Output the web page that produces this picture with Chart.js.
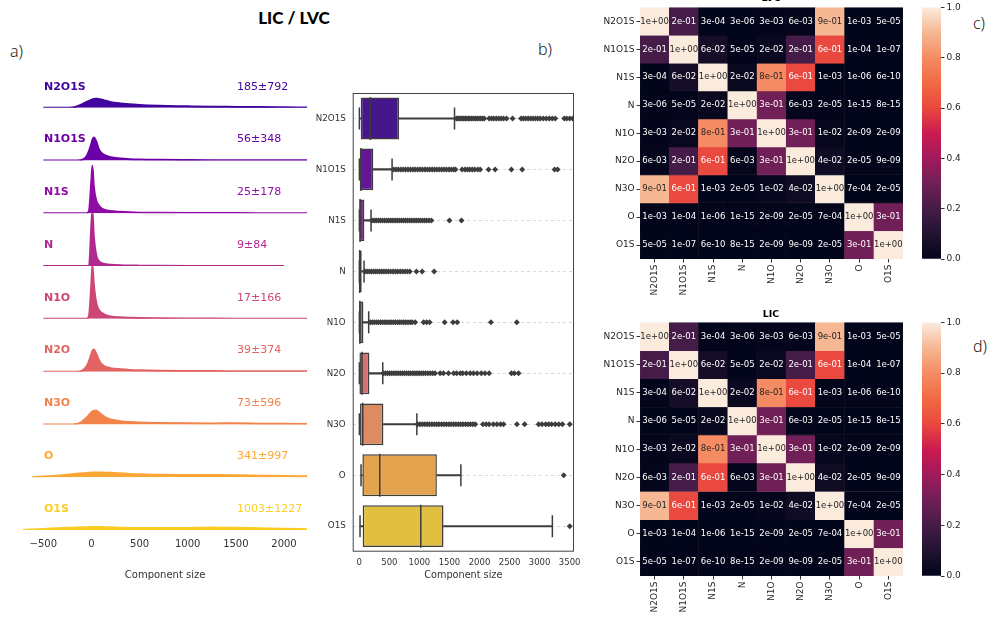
<!DOCTYPE html>
<html>
<head>
<meta charset="utf-8">
<title>LIC / LVC</title>
<script src="https://cdn.jsdelivr.net/npm/chart.js@4.4.1/dist/chart.umd.min.js"></script>
<style>
  body { margin: 0; width: 988px; height: 619px; position: relative; overflow: hidden; background: #fff; font-family: "DejaVu Sans", sans-serif; }
  canvas { position: absolute; }
  .tag { position: absolute; font-family: "Noto Sans", sans-serif; font-size: 16px; line-height: 22px; color: #222; font-weight: 300; }
  .title { position: absolute; text-align: center; font-weight: bold; color: #000; }
</style>
</head>
<body>
<div class="title" style="left:194px;top:8px;width:200px;font-family:Lato,'DejaVu Sans',sans-serif;font-size:17px;line-height:20px;font-weight:900">LIC / LVC</div>
<div class="tag" style="left:10px;top:40px">a)</div>
<div class="tag" style="left:538px;top:38px">b)</div>
<div class="tag" style="left:973px;top:12px">c)</div>
<div class="tag" style="left:973px;top:335px">d)</div>

<canvas id="ridge" width="320" height="560" style="left:0;top:40px"></canvas>
<canvas id="box" width="297" height="520" style="left:300px;top:70px"></canvas>
<canvas id="heatC" width="320" height="300" style="left:590px;top:0"></canvas>
<canvas id="cbarC" width="60" height="300" style="left:915px;top:0"></canvas>
<canvas id="heatD" width="320" height="302" style="left:590px;top:315px"></canvas>
<canvas id="cbarD" width="60" height="302" style="left:915px;top:315px"></canvas>
<div class="title" style="left:671px;top:-8px;width:200px;font-size:9.5px;line-height:12px">LVC</div>
<div class="title" style="left:671px;top:308px;width:200px;font-size:9.5px;line-height:12px">LIC</div>

<script>
// ---- data ----
const ridgeRows = ['N2O1S', 'N1O1S', 'N1S', 'N', 'N1O', 'N2O', 'N3O', 'O', 'O1S'];
const ridgeColors = ['#41049d', '#6a00a8', '#8f0da4', '#b12a90', '#cc4778', '#e16462', '#f2844b', '#fca636', '#fcce25'];
const ridgeMean = [185, 56, 25, 9, 17, 39, 73, 341, 1003];
const ridgeStd = [792, 348, 178, 84, 166, 374, 596, 997, 1227];
const ridgeTicks = [-500, 0, 500, 1000, 1500, 2000];
const ridgeX = [-715, -620, -500, -300, -200, -150, -100, -50, -25, 0, 10, 25, 50, 75, 100, 150, 200, 300, 400, 500, 700, 1000, 1250, 1500, 1750, 2000, 2240];
// density (x1e-3)
const densN2O1S = [null, null, 0, 0, 0.05, 0.25, 0.6, 1.1, 1.3, 1.5, 1.58, 1.65, 1.7, 1.65, 1.55, 1.3, 1.05, 0.8, 0.65, 0.5, 0.35, 0.25, 0.18, 0.15, 0.12, 0.08, 0.04];
const densN1O1S = [null, null, 0, 0, 0, 0, 0.1, 0.8, 1.8, 3.2, 3.9, 4.35, 3.6, 2.2, 1.5, 0.9, 0.6, 0.38, 0.25, 0.18, 0.12, 0.08, 0.06, 0.05, 0.04, 0.03, 0.03];
const densN1S = [null, null, 0, 0, 0, 0, 0, 0, 0.5, 6.5, 9.0, 5.0, 2.4, 1.5, 1.0, 0.6, 0.42, 0.28, 0.18, 0.12, 0.08, 0.05, 0.04, 0.03, 0.025, 0.02, 0.02];
const densN = [null, null, 0, 0, 0, 0, 0, 0, 0, 8.0, 10.5, 5.5, 2.0, 1.0, 0.6, 0.35, 0.25, 0.15, 0.1, 0.08, 0.05, 0.03, 0.025, 0.02, 0.02, 0.02, null];
const densN1O = [null, null, 0, 0, 0, 0, 0, 0, 0.6, 7.0, 10.2, 6.5, 3.0, 1.8, 1.2, 0.7, 0.45, 0.28, 0.2, 0.15, 0.1, 0.06, 0.05, 0.04, 0.035, 0.03, 0.03];
const densN2O = [null, null, 0, 0, 0, 0, 0.15, 1.0, 2.0, 3.4, 3.9, 4.2, 3.4, 2.3, 1.5, 0.9, 0.65, 0.45, 0.32, 0.25, 0.17, 0.12, 0.1, 0.09, 0.08, 0.07, 0.05];
const densN3O = [null, null, 0, 0, 0, 0.1, 0.5, 1.3, 1.8, 2.3, 2.45, 2.6, 2.6, 2.3, 1.9, 1.3, 0.95, 0.62, 0.45, 0.35, 0.26, 0.2, 0.18, 0.22, 0.15, 0.12, 0.1];
const densO = [null, 0, 0.12, 0.38, 0.55, 0.65, 0.75, 0.82, 0.85, 0.88, 0.89, 0.9, 0.9, 0.89, 0.88, 0.86, 0.85, 0.75, 0.62, 0.55, 0.45, 0.42, 0.4, 0.38, 0.3, 0.22, 0.18];
const densO1S = [0, 0.1, 0.2, 0.38, 0.45, 0.49, 0.52, 0.54, 0.55, 0.56, 0.56, 0.56, 0.56, 0.56, 0.56, 0.54, 0.52, 0.45, 0.4, 0.38, 0.36, 0.4, 0.45, 0.42, 0.32, 0.22, 0.15];
const ridgeDensity = [densN2O1S, densN1O1S, densN1S, densN, densN1O, densN2O, densN3O, densO, densO1S];

const boxRows = ridgeRows;
const boxColors = ['#45178a', '#641593', '#812091', '#a03b87', '#bb577c', '#d17371', '#dd8b60', '#e3a34f', '#e1bf40'];
const boxMin = [1, 1, 1, 1, 1, 1, 1, 29, 12];
const boxQ1 = [23, 7, 2, 1, 1, 2, 12, 51, 56];
const boxMedian = [184, 30, 12, 6, 8, 45, 57, 340, 1023];
const boxQ3 = [662, 233, 84, 40, 68, 168, 401, 1290, 1401];
const boxHigh = [1584, 545, 195, 79, 156, 390, 957, 1690, 3212];
const boxTicks = [0, 500, 1000, 1500, 2000, 2500, 3000, 3500];
const outN2O1S = [1615, 1640, 1665, 1690, 1715, 1740, 1765, 1790, 1815, 1840, 1870, 1900, 1930, 1960, 1990, 2020, 2050, 2080, 2160, 2200, 2240, 2280, 2320, 2360, 2400, 2450, 2550, 2690, 2730, 2770, 2810, 2850, 2890, 2930, 2970, 3010, 3060, 3110, 3160, 3210, 3260, 3410, 3450, 3500, 3550];
const outN1O1S = [570, 610, 650, 690, 730, 770, 810, 850, 890, 930, 970, 1010, 1050, 1090, 1130, 1170, 1210, 1250, 1290, 1330, 1370, 1410, 1450, 1490, 1530, 1570, 1600, 1710, 1760, 1800, 1840, 1880, 1920, 1970, 2010, 2150, 2260, 2530, 2710, 3250, 3300];
const outN1S = [210, 245, 280, 315, 350, 385, 420, 455, 490, 525, 560, 595, 630, 665, 700, 735, 770, 805, 840, 875, 910, 945, 980, 1015, 1050, 1085, 1120, 1160, 1200, 1500, 1700];
const outN = [95, 130, 165, 200, 235, 270, 305, 340, 375, 410, 445, 480, 520, 560, 600, 640, 680, 720, 760, 800, 840, 950, 1045, 1245];
const outN1O = [180, 215, 250, 285, 320, 355, 390, 425, 460, 495, 530, 565, 600, 635, 670, 705, 740, 775, 810, 845, 880, 930, 1070, 1120, 1170, 1420, 1560, 1630, 2190, 2620];
const outN2O = [400, 435, 470, 505, 540, 575, 610, 645, 680, 715, 750, 785, 820, 855, 890, 925, 960, 995, 1030, 1065, 1100, 1140, 1180, 1220, 1260, 1345, 1400, 1484, 1570, 1620, 1680, 1720, 1780, 1845, 1900, 1960, 2030, 2090, 2160, 2530, 2580, 2650];
const outN3O = [968, 1008, 1048, 1088, 1128, 1168, 1208, 1248, 1288, 1328, 1368, 1408, 1448, 1488, 1528, 1568, 1608, 1648, 1688, 1728, 1768, 1808, 1848, 1888, 1929, 2057, 2110, 2160, 2230, 2290, 2350, 2400, 2623, 2751, 2984, 3040, 3100, 3150, 3200, 3260, 3320, 3380, 3501];
const outO = [3401];
const outO1S = [3501];
const boxOutliers = [outN2O1S, outN1O1S, outN1S, outN, outN1O, outN2O, outN3O, outO, outO1S];

const hmRows = ['N2O1S', 'N1O1S', 'N1S', 'N', 'N1O', 'N2O', 'N3O', 'O', 'O1S'];
const hmCols = ['N2O1S', 'N1O1S', 'N1S', 'N', 'N1O', 'N2O', 'N3O', 'O', 'O1S'];
const hmN2O1S = ['1e+00', '2e-01', '3e-04', '3e-06', '3e-03', '6e-03', '9e-01', '1e-03', '5e-05'];
const hmN1O1S = ['2e-01', '1e+00', '6e-02', '5e-05', '2e-02', '2e-01', '6e-01', '1e-04', '1e-07'];
const hmN1S = ['3e-04', '6e-02', '1e+00', '2e-02', '8e-01', '6e-01', '1e-03', '1e-06', '6e-10'];
const hmN = ['3e-06', '5e-05', '2e-02', '1e+00', '3e-01', '6e-03', '2e-05', '1e-15', '8e-15'];
const hmN1O = ['3e-03', '2e-02', '8e-01', '3e-01', '1e+00', '3e-01', '1e-02', '2e-09', '2e-09'];
const hmN2O = ['6e-03', '2e-01', '6e-01', '6e-03', '3e-01', '1e+00', '4e-02', '2e-05', '9e-09'];
const hmN3O = ['9e-01', '6e-01', '1e-03', '2e-05', '1e-02', '4e-02', '1e+00', '7e-04', '2e-05'];
const hmO = ['1e-03', '1e-04', '1e-06', '1e-15', '2e-09', '2e-05', '7e-04', '1e+00', '3e-01'];
const hmO1S = ['5e-05', '1e-07', '6e-10', '8e-15', '2e-09', '9e-09', '2e-05', '3e-01', '1e+00'];
const hmValues = [hmN2O1S, hmN1O1S, hmN1S, hmN, hmN1O, hmN2O, hmN3O, hmO, hmO1S];
const cbarTicks = [0, 0.2, 0.4, 0.6, 0.8, 1.0];

// rocket colour map stops
const rocketStops = ['#03051a', '#221331', '#451c47', '#701f57', '#a11a5b', '#cb1b4f', '#e9493f', '#f16a43', '#f58b63', '#f6b793', '#faebdd'];

Chart.defaults.font.family = '"DejaVu Sans", sans-serif';
Chart.defaults.color = '#333';
Chart.defaults.animation = false;
Chart.defaults.plugins.legend.display = false;
Chart.defaults.plugins.tooltip.enabled = false;

function hexRgb(h) {
  return [parseInt(h.slice(1, 3), 16), parseInt(h.slice(3, 5), 16), parseInt(h.slice(5, 7), 16)];
}
function rocket(v) {
  const t = Math.max(0, Math.min(1, v)) * (rocketStops.length - 1);
  const i = Math.min(Math.floor(t), rocketStops.length - 2);
  const f = t - i;
  const a = hexRgb(rocketStops[i]), b = hexRgb(rocketStops[i + 1]);
  return a.map((c, k) => Math.round(c + (b[k] - c) * f));
}
const rgbStr = c => `rgb(${c[0]},${c[1]},${c[2]})`;

// ---- a) ridge plot ----
const ridgeScales = {
  x: {
    type: 'linear', min: -715, max: 2245,
    afterBuildTicks: s => { s.ticks = ridgeTicks.map(v => ({ value: v })); },
    afterFit: s => { s.height = 70; },
    grid: { display: false, drawTicks: false }, border: { display: false },
    ticks: { padding: 8, font: { size: 10 }, color: '#333', callback: v => v < 0 ? '\u2212' + Math.abs(v) : String(v) },
    title: { display: true, text: 'Component size', font: { size: 10 }, color: '#333', padding: { top: 4, bottom: 19 } }
  }
};
// stacked scales are laid out bottom-up, so add the last row first
ridgeRows.slice().reverse().forEach(r => {
  const i = ridgeRows.indexOf(r);
  ridgeScales['r' + i] = { type: 'linear', axis: 'y', position: 'left', display: false, stack: 'ridge', stackWeight: 1, min: 0, max: 10 };
});

const ridgeLabels = {
  id: 'ridgeLabels',
  afterDatasetsDraw(chart) {
    const ctx = chart.ctx;
    ctx.save();
    ctx.textBaseline = 'middle';
    ridgeRows.forEach((r, i) => {
      const y = chart.scales['r' + i].bottom - 21;
      ctx.fillStyle = ridgeColors[i];
      ctx.font = 'bold 11px "DejaVu Sans"';
      ctx.fillText(r, 44, y);
      ctx.font = '11px "DejaVu Sans"';
      ctx.fillText(ridgeMean[i] + '\u00b1' + ridgeStd[i], 237, y);
    });
    ctx.restore();
  }
};

new Chart(document.getElementById('ridge'), {
  type: 'line',
  data: {
    datasets: ridgeRows.map((r, i) => ({
      label: r,
      data: ridgeX.map((x, k) => ({ x, y: ridgeDensity[i][k] })),
      yAxisID: 'r' + i,
      borderColor: ridgeColors[i],
      backgroundColor: ridgeColors[i],
      borderWidth: 2,
      pointRadius: 0,
      fill: 'origin',
      cubicInterpolationMode: 'monotone',
      order: ridgeRows.length - i
    }))
  },
  options: {
    responsive: false,
    layout: { padding: { left: 22.6, right: 12.4, top: 14.9, bottom: 0 } },
    scales: ridgeScales
  },
  plugins: [ridgeLabels]
});

// ---- b) box plot ----
const gray = '#3d3d3d';
const frame = {
  id: 'frame',
  afterDraw(chart) {
    const a = chart.chartArea, ctx = chart.ctx;
    ctx.save();
    ctx.strokeStyle = '#444';
    ctx.lineWidth = 1;
    ctx.strokeRect(a.left + 0.5, a.top + 0.5, a.width - 1, a.height - 1);
    ctx.restore();
  }
};

new Chart(document.getElementById('box'), {
  type: 'bar',
  data: {
    labels: boxRows,
    datasets: [
      { data: boxRows.map((r, i) => [boxMin[i], boxQ1[i]]), backgroundColor: gray, barThickness: 1.5, grouped: false, order: 5 },
      { data: boxRows.map((r, i) => [boxQ3[i], boxHigh[i]]), backgroundColor: gray, barThickness: 1.5, grouped: false, order: 5 },
      { data: boxRows.map((r, i) => [boxQ1[i], boxQ3[i]]), backgroundColor: boxColors, borderColor: gray, borderWidth: 1.5, borderSkipped: false, barPercentage: 0.82, categoryPercentage: 1, grouped: false, order: 4 },
      { type: 'line', showLine: false, data: boxRows.map((r, i) => ({ x: boxMedian[i], y: r })), pointStyle: 'line', rotation: 90, pointRadius: 21.5, pointBorderWidth: 1.5, pointBorderColor: gray, order: 3 },
      { type: 'line', showLine: false, data: boxRows.flatMap((r, i) => [{ x: boxMin[i], y: r }, { x: boxHigh[i], y: r }]), pointStyle: 'line', rotation: 90, pointRadius: 11, pointBorderWidth: 1.5, pointBorderColor: gray, order: 2 },
      { type: 'line', showLine: false, data: boxRows.flatMap((r, i) => boxOutliers[i].map(v => ({ x: v, y: r }))), pointStyle: 'rectRot', pointRadius: 3, pointBorderWidth: 0, pointBackgroundColor: gray, order: 1 }
    ]
  },
  options: {
    responsive: false,
    indexAxis: 'y',
    layout: { padding: { left: 0, right: 6.7, top: 6, bottom: 0 } },
    scales: {
      x: {
        type: 'linear', min: -110, max: 3572,
        afterBuildTicks: s => { s.ticks = boxTicks.map(v => ({ value: v })); },
        afterFit: s => { s.height = 38.3; },
        grid: { display: false, drawTicks: false }, border: { display: false },
        ticks: { padding: 6, font: { size: 8.5 }, color: '#333', maxRotation: 0, minRotation: 0, autoSkip: false, callback: v => String(v) },
        title: { display: true, text: 'Component size', font: { size: 9.7 }, color: '#333', padding: { top: 2, bottom: 8.6 } }
      },
      y: {
        type: 'category',
        afterFit: s => { s.width = 52.7; },
        grid: { offset: false, color: '#cfcfcf', lineWidth: 0.8, drawTicks: false },
        border: { display: false, dash: [3, 3] },
        ticks: { padding: 7, font: { size: 8.7 }, color: '#333' }
      }
    }
  },
  plugins: [frame]
});

// ---- c) / d) heatmaps ----
const cellText = {
  id: 'cellText',
  afterDatasetsDraw(chart) {
    const ctx = chart.ctx;
    ctx.save();
    ctx.font = '8.5px "DejaVu Sans"';
    ctx.textAlign = 'center';
    ctx.textBaseline = 'middle';
    chart.data.datasets.forEach((ds, i) => {
      chart.getDatasetMeta(i).data.forEach((bar, j) => {
        const c = rocket(parseFloat(hmValues[i][j]));
        const lum = 0.299 * c[0] + 0.587 * c[1] + 0.114 * c[2];
        ctx.fillStyle = lum > 140 ? '#262626' : '#ffffff';
        ctx.fillText(hmValues[i][j], bar.x, (bar.y + bar.base) / 2);
      });
    });
    ctx.restore();
  }
};

function heatmap(id) {
  new Chart(document.getElementById(id), {
    type: 'bar',
    data: {
      labels: hmCols,
      datasets: hmRows.map((r, i) => {
        const colors = hmValues[i].map(v => rgbStr(rocket(parseFloat(v))));
        return {
          label: r,
          data: hmValues[i].map(() => 1),
          backgroundColor: colors,
          borderColor: colors,
          borderWidth: 0.6,
          borderSkipped: false,
          barPercentage: 1,
          categoryPercentage: 1
        };
      })
    },
    options: {
      responsive: false,
      layout: { padding: { left: 0, right: 7, top: 6.7, bottom: 0 } },
      scales: {
        x: {
          stacked: true,
          afterFit: s => { s.height = 41; },
          grid: { offset: false, drawOnChartArea: false, tickLength: 3.5, tickColor: '#333' },
          border: { display: false },
          ticks: { minRotation: 90, maxRotation: 90, autoSkip: false, padding: 2, font: { size: 9 }, color: '#262626' }
        },
        y: {
          stacked: true, min: 0, max: hmRows.length, reverse: true,
          afterBuildTicks: s => { s.ticks = hmRows.map((r, i) => ({ value: i + 0.5 })); },
          afterFit: s => { s.width = 50; },
          grid: { drawOnChartArea: false, tickLength: 3.5, tickColor: '#333' },
          border: { display: false },
          ticks: { autoSkip: false, padding: 2, font: { size: 9 }, color: '#262626', callback: (v, idx) => hmRows[idx] }
        }
      }
    },
    plugins: [cellText]
  });
}

function colorbar(id) {
  new Chart(document.getElementById(id), {
    type: 'bar',
    data: {
      labels: [''],
      datasets: [{
        data: [[cbarTicks[0], cbarTicks[cbarTicks.length - 1]]],
        barPercentage: 1,
        categoryPercentage: 1,
        backgroundColor: ctx => {
          const a = ctx.chart.chartArea;
          if (!a) return rgbStr(rocket(0.5));
          const g = ctx.chart.ctx.createLinearGradient(0, a.bottom, 0, a.top);
          rocketStops.forEach((c, k) => g.addColorStop(k / (rocketStops.length - 1), c));
          return g;
        }
      }]
    },
    options: {
      responsive: false,
      layout: { padding: { left: 7, right: 0, top: 6.7, bottom: 41 } },
      scales: {
        x: { display: false },
        y: {
          position: 'right', min: 0, max: 1,
          afterBuildTicks: s => { s.ticks = cbarTicks.map(v => ({ value: v })); },
          afterFit: s => { s.width = 34; },
          grid: { drawOnChartArea: false, tickLength: 3.5, tickColor: '#333' },
          border: { display: false },
          ticks: { padding: 2, font: { size: 9 }, color: '#262626', callback: v => v.toFixed(1) }
        }
      }
    }
  });
}

heatmap('heatC');
colorbar('cbarC');
heatmap('heatD');
colorbar('cbarD');
</script>
</body>
</html>
